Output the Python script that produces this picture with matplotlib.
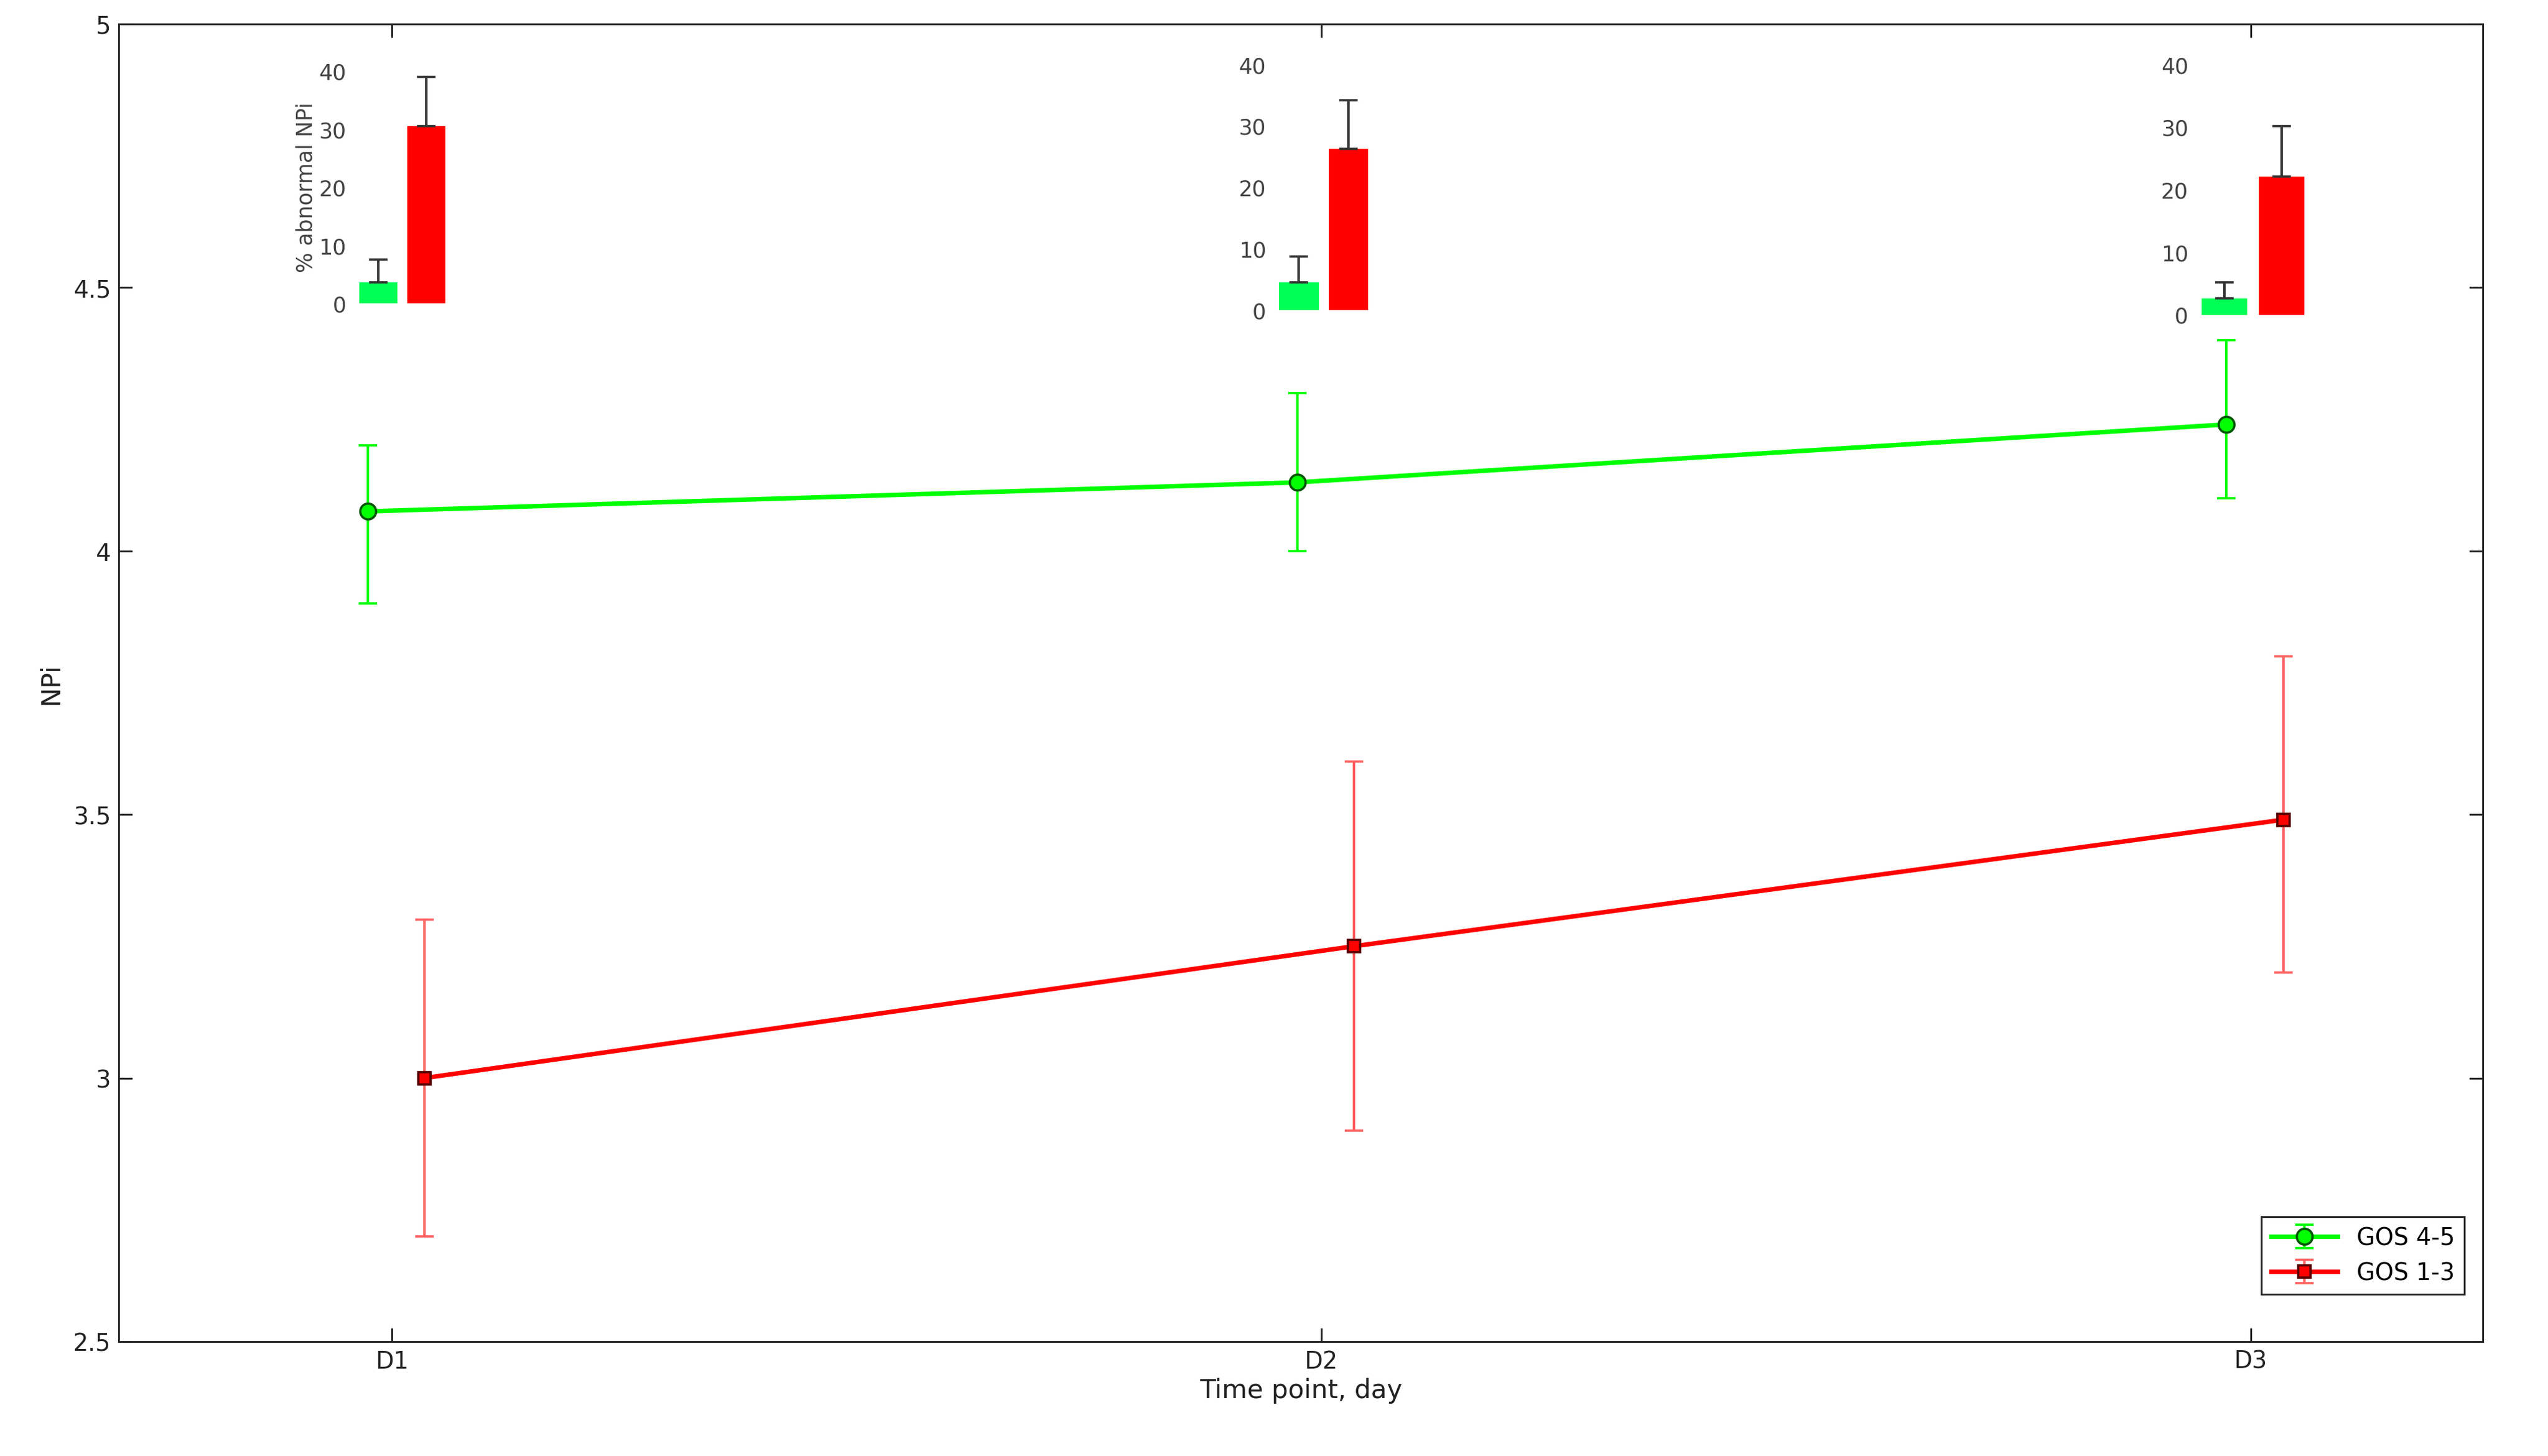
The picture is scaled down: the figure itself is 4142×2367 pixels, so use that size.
import matplotlib
matplotlib.use("Agg")
import matplotlib.pyplot as plt

days = ["D1", "D2", "D3"]
x = [1, 2, 3]
good_mean = [4.075, 4.13, 4.24]
good_lo = [3.9, 4.0, 4.1]
good_hi = [4.2, 4.3, 4.4]
poor_mean = [3.0, 3.25, 3.49]
poor_lo = [2.7, 2.9, 3.2]
poor_hi = [3.3, 3.6, 3.8]
ab_good = [3.6, 4.5, 2.6]
ab_good_err = [3.9, 4.2, 2.6]
ab_poor = [30.5, 26.2, 22.1]
ab_poor_err = [8.5, 8.0, 8.0]

W, H = 1568.0, 896.4
fig = plt.figure(figsize=(W/100*1.0*1, H/100), dpi=100)
fig.set_size_inches(15.68, 8.964)
DPI = 4142/15.68

def ax_px(l, t, r, b):
    return [l/W, 1-b/H, (r-l)/W, (b-t)/H]

ax = fig.add_axes(ax_px(73, 15, 1528, 826))
gx = [v-0.026 for v in x]
rx = [v+0.035 for v in x]
green = "#00ff00"; red = "#ff0000"
ax.errorbar(gx, good_mean, yerr=[[m-l for m, l in zip(good_mean, good_lo)], [h-m for m, h in zip(good_mean, good_hi)]],
            color=green, lw=2, marker="o", ms=7, mfc=green, mec="#005500", ecolor=green, elinewidth=1.1, capsize=4, label="GOS 4-5")
ax.errorbar(rx, poor_mean, yerr=[[m-l for m, l in zip(poor_mean, poor_lo)], [h-m for m, h in zip(poor_mean, poor_hi)]],
            color=red, lw=2, marker="s", ms=5.5, mfc=red, mec="#550000", ecolor="#ff6060", elinewidth=1.1, capsize=4, label="GOS 1-3")
ax.set_xlim(0.706, 3.25)
ax.set_ylim(2.5, 5)
ax.set_xticks(x)
ax.set_xticklabels(days)
ax.set_yticks([2.5, 3, 3.5, 4, 4.5, 5])
ax.set_yticklabels(["2.5", "3", "3.5", "4", "4.5", "5"])
ax.tick_params(direction="in", top=True, right=True, labelsize=10.5, colors="#222222", length=6)
for s in ax.spines.values():
    s.set_color("#262626")
ax.set_xlabel("Time point, day", fontsize=11.5, color="#222222", labelpad=2)
ax.set_ylabel("NPi", fontsize=11.5, color="#222222")
leg = ax.legend(loc="lower right", fontsize=10.5, fancybox=False, edgecolor="#262626", framealpha=1,
                handlelength=2.8, borderpad=0.4, bbox_to_anchor=(0.997, 0.027))
leg.get_frame().set_linewidth(0.8)

insets = [(218, 44, 277, 187), (784, 40, 845, 191), (1351.5, 40, 1421.5, 194)]
for i, (l, t, r, b) in enumerate(insets):
    ia = fig.add_axes(ax_px(l, t, r, b))
    ia.patch.set_alpha(0)
    ia.bar([0.25], [ab_good[i]], width=0.4, color="#00ff55")
    ia.bar([0.75], [ab_poor[i]], width=0.4, color=red)
    ia.errorbar([0.25, 0.75], [ab_good[i], ab_poor[i]], yerr=[[0, 0], [ab_good_err[i], ab_poor_err[i]]],
                fmt="none", ecolor="#333333", elinewidth=1.1, capsize=4)
    ia.set_xlim(0, 1); ia.set_ylim(0, 40)
    ia.set_xticks([]); ia.set_yticks([0, 10, 20, 30, 40])
    ia.tick_params(length=0, labelsize=9.5, colors="#444444")
    for s in ia.spines.values():
        s.set_visible(False)
    if i == 0:
        ia.set_ylabel("% abnormal NPi", fontsize=9.5, color="#444444", labelpad=1)

fig.savefig("out.png", dpi=DPI)
